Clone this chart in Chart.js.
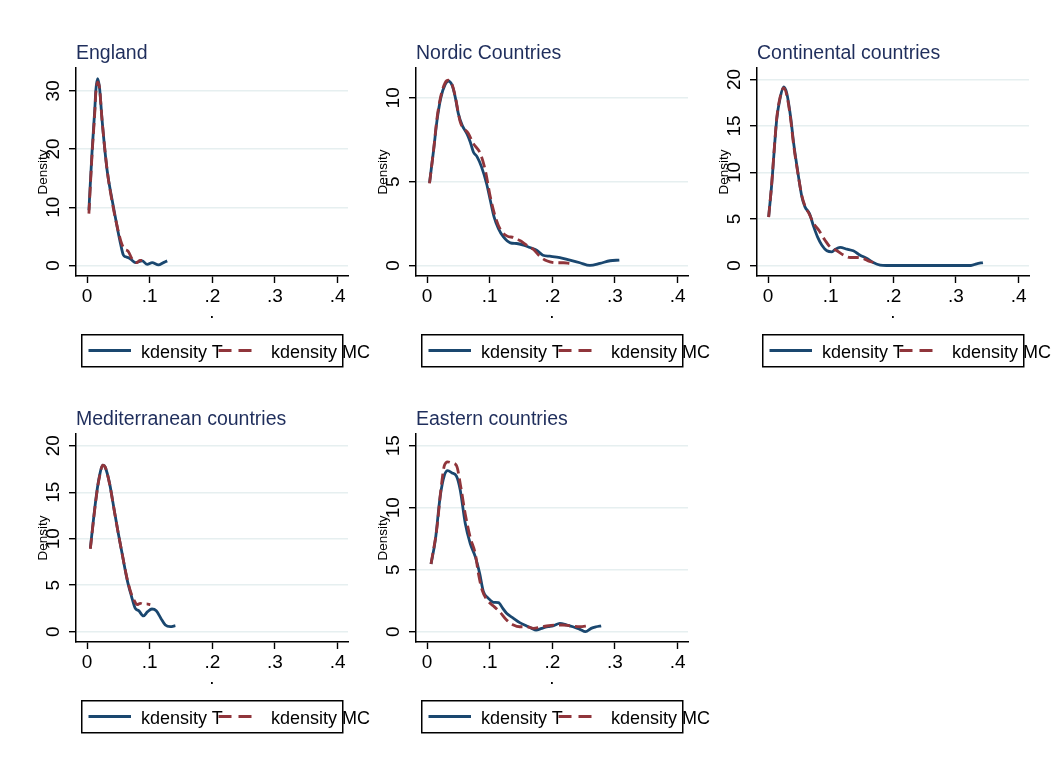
<!DOCTYPE html>
<html>
<head>
<meta charset="utf-8">
<title>kdensity T vs MC by region</title>
<script src="https://cdn.jsdelivr.net/npm/chart.js@4.4.1/dist/chart.umd.min.js"></script>
<style>
  html, body { margin: 0; padding: 0; background: #fff; }
  #fig {
    position: relative;
    width: 1058px;
    height: 769px;
    overflow: hidden;
    font-family: 'Liberation Sans', Arial, sans-serif;
  }
  #fig canvas { position: absolute; }
  #fig svg.legend { position: absolute; overflow: visible; }
</style>
</head>
<body>
<div id="fig"></div>
<script>
/* Kernel density of T and MC by country group, 5 panels (Stata style) */

// ── Data ──

var TITLES = ['England', 'Nordic Countries', 'Continental countries',
              'Mediterranean countries', 'Eastern countries'];

var X_TICKS = [0, 0.1, 0.2, 0.3, 0.4];
var X_TICK_LABELS = ['0', '.1', '.2', '.3', '.4'];

var englandTx  = [0.003, 0.008, 0.0125, 0.014, 0.017, 0.020, 0.024, 0.032, 0.040, 0.049, 0.0533, 0.058, 0.0617, 0.067, 0.072, 0.077, 0.088, 0.096, 0.104, 0.114, 0.122, 0.128];
var englandT   = [9.5, 19.5, 27.0, 30.0, 32.1, 30.5, 25.0, 16.4, 11.3, 6.1, 3.85, 1.8, 1.5, 1.3, 0.9, 0.5, 0.8, 0.2, 0.5, 0.1, 0.5, 0.8];
var englandMCx = [0.003, 0.008, 0.0125, 0.014, 0.017, 0.020, 0.024, 0.032, 0.040, 0.049, 0.054, 0.059, 0.066, 0.071, 0.076, 0.080, 0.084, 0.088];
var englandMC  = [8.9, 19.0, 26.5, 29.5, 31.5, 30.5, 25.0, 16.5, 11.0, 6.3, 4.2, 2.9, 2.4, 1.3, 0.6, 0.5, 0.9, 0.9];

var nordicTx  = [0.004, 0.0105, 0.016, 0.022, 0.029, 0.034, 0.040, 0.045, 0.050, 0.056, 0.064, 0.069, 0.074, 0.080, 0.087, 0.095, 0.101, 0.107, 0.114, 0.122, 0.133, 0.143, 0.154, 0.164, 0.175, 0.185, 0.196, 0.212, 0.228, 0.244, 0.260, 0.276, 0.292, 0.307];
var nordicT   = [4.93, 6.88, 8.67, 10.0, 10.8, 11.0, 10.75, 10.05, 9.06, 8.37, 7.83, 7.37, 6.77, 6.48, 5.88, 4.89, 3.89, 2.9, 2.2, 1.7, 1.35, 1.31, 1.21, 1.07, 0.91, 0.61, 0.55, 0.47, 0.32, 0.16, 0.0, 0.12, 0.28, 0.32];
var nordicMCx = [0.004, 0.0105, 0.016, 0.022, 0.029, 0.034, 0.040, 0.045, 0.053, 0.066, 0.074, 0.085, 0.093, 0.101, 0.109, 0.117, 0.128, 0.138, 0.149, 0.159, 0.170, 0.180, 0.191, 0.207, 0.218, 0.228];
var nordicMC  = [4.9, 6.9, 8.8, 10.1, 10.9, 11.05, 10.8, 10.1, 8.57, 7.87, 7.27, 6.68, 5.68, 4.1, 2.9, 2.15, 1.75, 1.67, 1.47, 1.21, 0.95, 0.55, 0.28, 0.16, 0.16, 0.12];

var contTx  = [0.001, 0.006, 0.010, 0.014, 0.0196, 0.025, 0.030, 0.036, 0.041, 0.047, 0.054, 0.059, 0.066, 0.073, 0.079, 0.086, 0.094, 0.102, 0.107, 0.115, 0.126, 0.136, 0.147, 0.158, 0.168, 0.179, 0.189, 0.22, 0.26, 0.30, 0.324, 0.333, 0.343];
var contT   = [5.23, 8.8, 12.5, 15.8, 18.1, 19.2, 18.5, 16.0, 13.1, 10.3, 7.4, 6.3, 5.6, 4.15, 3.08, 2.18, 1.58, 1.47, 1.72, 1.94, 1.76, 1.58, 1.11, 0.75, 0.32, 0.04, 0, 0, 0, 0, 0, 0.18, 0.32];
var contMCx = [0.001, 0.006, 0.010, 0.014, 0.0196, 0.025, 0.030, 0.036, 0.041, 0.047, 0.054, 0.059, 0.066, 0.073, 0.081, 0.091, 0.099, 0.110, 0.121, 0.131, 0.142, 0.152, 0.160, 0.168];
var contMC  = [5.2, 8.9, 12.6, 15.9, 18.2, 19.1, 18.3, 15.8, 12.9, 10.2, 7.5, 6.4, 5.5, 4.5, 3.8, 2.72, 2.0, 1.58, 1.11, 0.86, 0.86, 0.75, 0.5, 0.32];

var medTx  = [0.0053, 0.0133, 0.0186, 0.0255, 0.029, 0.036, 0.0425, 0.049, 0.056, 0.064, 0.071, 0.077, 0.0825, 0.090, 0.0967, 0.1036, 0.1105, 0.118, 0.125, 0.133, 0.141];
var medT   = [8.97, 13.8, 16.3, 17.9, 17.7, 15.95, 13.44, 10.9, 8.4, 5.6, 3.8, 2.5, 2.26, 1.69, 2.15, 2.44, 2.26, 1.43, 0.72, 0.54, 0.65];
var medMCx = [0.0053, 0.0133, 0.0186, 0.0255, 0.029, 0.036, 0.0425, 0.049, 0.056, 0.064, 0.071, 0.075, 0.080, 0.085, 0.090, 0.095, 0.101];
var medMC  = [8.9, 13.7, 16.2, 17.9, 17.7, 15.9, 13.4, 10.9, 8.4, 5.7, 4.0, 3.4, 2.9, 3.05, 2.95, 3.0, 2.9];

var eastTx  = [0.0064, 0.0133, 0.021, 0.0277, 0.033, 0.040, 0.047, 0.053, 0.061, 0.069, 0.077, 0.084, 0.090, 0.098, 0.106, 0.114, 0.121, 0.127, 0.138, 0.148, 0.159, 0.167, 0.174, 0.183, 0.193, 0.201, 0.212, 0.223, 0.233, 0.244, 0.253, 0.262, 0.270, 0.278];
var eastT   = [5.46, 7.4, 10.9, 12.6, 12.98, 12.8, 12.55, 11.43, 8.74, 7.1, 6.05, 4.7, 3.23, 2.69, 2.37, 2.34, 1.88, 1.48, 1.08, 0.73, 0.46, 0.27, 0.13, 0.27, 0.40, 0.46, 0.67, 0.54, 0.40, 0.19, 0.0, 0.27, 0.40, 0.48];
var eastMCx = [0.0064, 0.016, 0.022, 0.0277, 0.033, 0.040, 0.047, 0.054, 0.061, 0.069, 0.077, 0.082, 0.088, 0.096, 0.106, 0.116, 0.127, 0.138, 0.148, 0.159, 0.170, 0.180, 0.191, 0.207, 0.217, 0.228, 0.244, 0.257];
var eastMC  = [5.46, 8.45, 11.4, 13.4, 13.7, 13.6, 13.4, 11.65, 9.5, 7.6, 6.3, 4.7, 3.36, 2.55, 2.07, 1.61, 0.94, 0.54, 0.40, 0.40, 0.27, 0.35, 0.46, 0.54, 0.54, 0.48, 0.40, 0.48];

// y axis ticks and visible range per panel
var Y_TICKS = [
  [0, 10, 20, 30],
  [0, 5, 10],
  [0, 5, 10, 15, 20],
  [0, 5, 10, 15, 20],
  [0, 5, 10, 15]
];
var Y_MIN = [-1.80, -0.63, -1.13, -1.11, -0.83];
var Y_MAX = [33.92, 11.78, 21.24, 21.26, 15.94];
var X_MIN = -0.0176;
var X_MAX = 0.4166;

// ── Layout / style ──

var PANEL_LEFT = [26, 366, 707, 26, 366];
var PANEL_TOP  = [28, 28, 28, 394, 394];
var CANVAS_W = 330;
var CANVAS_H = 308;

var FONT = "'Liberation Sans', Arial, sans-serif";
var NAVY = '#1a476f';
var MAROON = '#90353b';
var TITLE_COLOR = '#1f2e5c';
var GRID_COLOR = '#e6eff0';

// ── Helpers ──

function zip(xs, ys) {
  var out = [];
  for (var i = 0; i < xs.length; i++) {
    out.push({ x: xs[i], y: ys[i] });
  }
  return out;
}

function svgEl(tag, attrs) {
  var el = document.createElementNS('http://www.w3.org/2000/svg', tag);
  for (var k in attrs) el.setAttribute(k, attrs[k]);
  return el;
}

// ── Legend box (Stata puts one under each panel) ──

function buildLegend(fig, left, top) {
  var svg = svgEl('svg', { 'class': 'legend', width: 300, height: 36 });
  svg.style.left = left + 'px';
  svg.style.top = top + 'px';
  svg.appendChild(svgEl('rect', { x: 0.75, y: 0.75, width: 261, height: 32,
    fill: '#fff', stroke: '#000', 'stroke-width': 1.5 }));
  svg.appendChild(svgEl('line', { x1: 7.5, y1: 16.5, x2: 50, y2: 16.5,
    stroke: NAVY, 'stroke-width': 2.8 }));
  var t1 = svgEl('text', { x: 60, y: 24, 'font-size': 18, 'font-family': FONT, fill: '#000' });
  t1.textContent = 'kdensity T';
  svg.appendChild(t1);
  svg.appendChild(svgEl('line', { x1: 137.5, y1: 16.5, x2: 175.5, y2: 16.5,
    stroke: MAROON, 'stroke-width': 2.8, 'stroke-dasharray': '13 7' }));
  var t2 = svgEl('text', { x: 190, y: 24, 'font-size': 18, 'font-family': FONT, fill: '#000' });
  t2.textContent = 'kdensity MC';
  svg.appendChild(t2);
  fig.appendChild(svg);
}

// ── One density panel ──

function renderPanel(fig, i, tSeries, mcSeries) {
  var canvas = document.createElement('canvas');
  canvas.width = CANVAS_W;
  canvas.height = CANVAS_H;
  canvas.style.left = PANEL_LEFT[i] + 'px';
  canvas.style.top = PANEL_TOP[i] + 'px';
  fig.appendChild(canvas);

  var yTicks = Y_TICKS[i];

  new Chart(canvas, {
    type: 'line',
    data: {
      datasets: [
        {
          label: 'kdensity T',
          data: tSeries,
          borderColor: NAVY,
          borderWidth: 2.8,
          pointRadius: 0,
          fill: false,
          cubicInterpolationMode: 'monotone',
          order: 1
        },
        {
          label: 'kdensity MC',
          data: mcSeries,
          borderColor: MAROON,
          borderWidth: 2.8,
          borderDash: [11, 5],
          pointRadius: 0,
          fill: false,
          cubicInterpolationMode: 'monotone',
          order: 0
        }
      ]
    },
    options: {
      responsive: false,
      animation: false,
      devicePixelRatio: 1,
      layout: { padding: { top: 0, left: 0, right: 8, bottom: 0 } },
      plugins: {
        legend: { display: false },
        tooltip: { enabled: false },
        title: {
          display: true,
          text: TITLES[i],
          align: 'start',
          fullSize: false,
          color: TITLE_COLOR,
          font: { family: FONT, size: 19.5, weight: 'normal' },
          padding: { top: 14.2, bottom: 2.4 }
        }
      },
      scales: {
        x: {
          type: 'linear',
          position: 'bottom',
          bounds: 'data',
          min: X_MIN,
          max: X_MAX,
          afterBuildTicks: function(scale) {
            scale.ticks = X_TICKS.map(function(v) { return { value: v }; });
          },
          ticks: {
            autoSkip: false,
            maxRotation: 0,
            padding: 2.3,
            color: '#000',
            font: { family: FONT, size: 19 },
            callback: function(val, idx) { return X_TICK_LABELS[idx]; }
          },
          grid: { drawOnChartArea: false, tickLength: 7, tickColor: '#000', tickWidth: 1.4 },
          border: { color: '#000', width: 1.5 },
          title: {
            display: true,
            text: '.',
            color: '#000',
            font: { family: FONT, size: 19 },
            padding: { top: 0, bottom: 12.2 }
          },
          afterFit: function(scale) {
            scale.height = 60;
            scale.paddingLeft = 0;
            scale.paddingRight = 0;
          }
        },
        y: {
          type: 'linear',
          bounds: 'data',
          min: Y_MIN[i],
          max: Y_MAX[i],
          afterBuildTicks: function(scale) {
            scale.ticks = yTicks.map(function(v) { return { value: v }; });
          },
          ticks: {
            autoSkip: false,
            minRotation: 90,
            maxRotation: 90,
            crossAlign: 'center',
            padding: 4.7,
            color: '#000',
            font: { family: FONT, size: 19 },
            callback: function(val) { return String(val); }
          },
          grid: { color: GRID_COLOR, lineWidth: 1.4, tickLength: 7, tickColor: '#000', tickWidth: 1.4 },
          border: { color: '#000', width: 1.5 },
          title: {
            display: true,
            text: 'Density',
            color: '#000',
            font: { family: FONT, size: 13.5 },
            padding: { top: 8.8, bottom: 0 }
          },
          afterFit: function(scale) {
            scale.width = 50;
            scale.paddingTop = 0;
            scale.paddingBottom = 0;
          }
        }
      }
    }
  });

  buildLegend(fig, PANEL_LEFT[i] + 55, PANEL_TOP[i] + 306);
}

// ── Init ──

(function() {
  'use strict';
  var fig = document.getElementById('fig');
  renderPanel(fig, 0, zip(englandTx, englandT), zip(englandMCx, englandMC));
  renderPanel(fig, 1, zip(nordicTx, nordicT), zip(nordicMCx, nordicMC));
  renderPanel(fig, 2, zip(contTx, contT), zip(contMCx, contMC));
  renderPanel(fig, 3, zip(medTx, medT), zip(medMCx, medMC));
  renderPanel(fig, 4, zip(eastTx, eastT), zip(eastMCx, eastMC));
})();
</script>
</body>
</html>
